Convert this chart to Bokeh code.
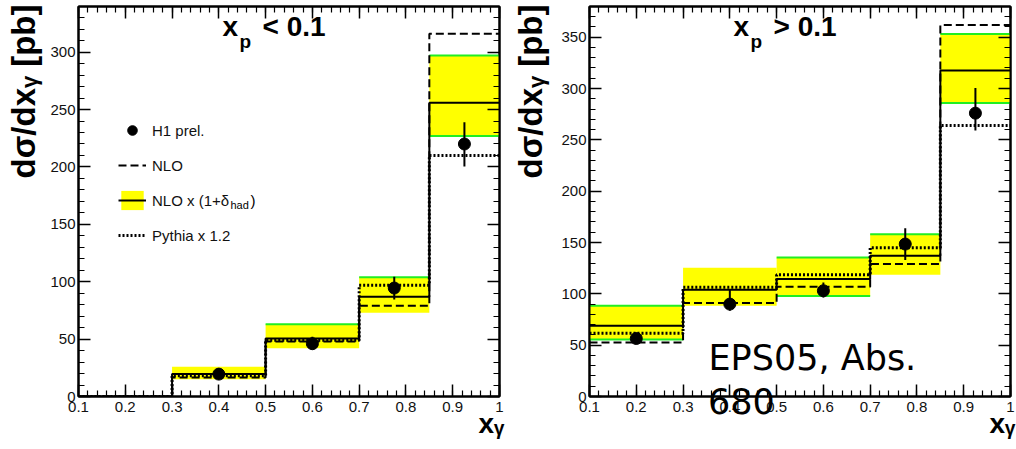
import numpy as np
from bokeh.plotting import figure
from bokeh.layouts import row
from bokeh.models import Label, Legend, LegendItem, LinearAxis, FixedTicker, Div
from bokeh.embed import file_html
from bokeh.resources import INLINE

# ---------------- data ----------------
edges = [0.1, 0.3, 0.5, 0.7, 0.85, 1.0]
x_ticks = [0.1, 0.2, 0.3, 0.4, 0.5, 0.6, 0.7, 0.8, 0.9, 1.0]
x_tick_labels = ["0.1", "0.2", "0.3", "0.4", "0.5", "0.6", "0.7", "0.8", "0.9", "1"]

# left panel: x_p < 0.1
nlo_l = [0, 16.5, 48, 79, 316]
nlo_had_l = [0, 19.5, 50.5, 87, 256]
band_lo_l = [0, 15, 42, 73, 227]
band_hi_l = [0, 26, 63, 104, 297]
green_hi_l = [None, None, 63, 104, 297]
green_lo_l = [None, None, None, None, 227]
pythia_l = [0, 18, 49, 97, 210]
h1_x_l = [0.4, 0.6, 0.775, 0.925]
h1_y_l = [19.5, 46, 94.5, 220]
h1_hi_l = [23.8, 52, 104.4, 239]
h1_lo_l = [15, 41, 84.5, 200.5]
y_ticks_l = [0, 50, 100, 150, 200, 250, 300]

# right panel: x_p > 0.1
nlo_r = [52.5, 91, 107, 129, 362]
nlo_had_r = [69, 104, 114.5, 137, 317.5]
band_lo_r = [55, 88.5, 98, 118.5, 286]
band_hi_r = [88.5, 125.5, 135.5, 158, 353]
green_hi_r = [88.5, None, 135.5, 158, 353]
green_lo_r = [55.5, None, 98, None, 286]
pythia_r = [61.5, 106.5, 118.5, 145, 264]
h1_x_r = [0.2, 0.4, 0.6, 0.775, 0.925]
h1_y_r = [56.5, 90, 103, 148.5, 276]
h1_hi_r = [60, 104, 111, 164, 300.5]
h1_lo_r = [53, 83.5, 96.5, 133, 259]
y_ticks_r = [0, 50, 100, 150, 200, 250, 300, 350]

YELLOW = "#ffff00"
GREEN = "#22ee22"
TICKFONT = "Liberation Sans"
NBSP = "\u00a0"
Y_TITLE = NBSP * 24 + "dσ/dxᵧ [pb]"
X_TITLE = NBSP * 52 + "xᵧ"


def style_axis(ax, ticker, labels=True, overrides=None):
    ax.ticker = ticker
    ax.axis_line_color = "black"
    ax.axis_line_width = 2
    ax.major_tick_in = 12
    ax.major_tick_out = 0
    ax.minor_tick_in = 6
    ax.minor_tick_out = 0
    ax.major_tick_line_color = "black"
    ax.major_tick_line_width = 1.5
    ax.minor_tick_line_color = "black"
    ax.minor_tick_line_width = 1.2
    if labels:
        ax.major_label_text_font = TICKFONT
        ax.major_label_text_font_size = "15px"
        ax.major_label_text_color = "#111111"
        if overrides:
            ax.major_label_overrides = overrides
    else:
        ax.major_label_text_color = None
        ax.major_label_text_font_size = "1px"
        ax.major_label_standoff = 0


def lbl(p, x, baseline, text, size, font="Liberation Sans", bold=True,
        align="left"):
    # position given by the text baseline (screen px above the frame bottom)
    p.add_layout(Label(x=x, y=baseline + 0.35 * size, x_units="screen",
                       y_units="screen", text=text,
                       text_font=font, text_font_size=f"{size}px",
                       text_font_style="bold" if bold else "normal",
                       text_align=align, text_baseline="middle",
                       text_color="black"))


def panel(width, y_max, mb_left, mb_right, nlo, nlo_had, blo, bhi, ghi, glo,
          pythia, hx, hy, hhi, hlo, y_ticks, title_sym, ylab_standoff):
    p = figure(width=width, height=449, x_range=(0.1, 1.0), y_range=(0, y_max),
               output_backend="svg", toolbar_location=None,
               min_border_left=mb_left, min_border_right=mb_right,
               min_border_top=6, min_border_bottom=53)
    p.xgrid.visible = False
    p.ygrid.visible = False
    p.outline_line_color = "black"
    p.outline_line_width = 2
    p.background_fill_color = "white"
    p.border_fill_color = "white"

    x_minor = list(np.round(np.arange(0.1, 1.0001, 0.02), 3))
    y_minor = list(range(0, int(y_max) + 1, 10))
    xt = FixedTicker(ticks=x_ticks, minor_ticks=x_minor)
    yt = FixedTicker(ticks=y_ticks, minor_ticks=y_minor)
    overrides = {t: s for t, s in zip(x_ticks, x_tick_labels)}

    xa = p.xaxis[0]
    style_axis(xa, xt, True, overrides)
    xa.major_label_standoff = 5
    xa.axis_label = X_TITLE
    xa.axis_label_text_font = "Liberation Sans"
    xa.axis_label_text_font_style = "bold"
    xa.axis_label_text_font_size = "28px"
    xa.axis_label_text_color = "black"
    xa.axis_label_standoff = -7

    ya = p.yaxis[0]
    style_axis(ya, yt, True)
    ya.major_label_standoff = 3
    ya.axis_label = Y_TITLE
    ya.axis_label_text_font = "Liberation Sans"
    ya.axis_label_text_font_style = "bold"
    ya.axis_label_text_font_size = "33px"
    ya.axis_label_text_color = "black"
    ya.axis_label_standoff = ylab_standoff

    top_ax = LinearAxis()
    style_axis(top_ax, FixedTicker(ticks=x_ticks, minor_ticks=x_minor), False)
    p.add_layout(top_ax, "above")
    right_ax = LinearAxis()
    style_axis(right_ax, FixedTicker(ticks=y_ticks, minor_ticks=y_minor), False)
    p.add_layout(right_ax, "right")

    # band
    band = p.quad(left=edges[:-1], right=edges[1:], bottom=blo, top=bhi,
                  fill_color=YELLOW, line_color=None)
    # green edges
    gx0, gx1, gy = [], [], []
    for i in range(len(ghi)):
        for v in (ghi[i], glo[i]):
            if v is not None:
                gx0.append(edges[i]); gx1.append(edges[i + 1]); gy.append(v)
    p.segment(x0=gx0, x1=gx1, y0=gy, y1=gy, line_color=GREEN, line_width=2)

    xs = edges
    r_nlo = p.step(xs, list(nlo) + [nlo[-1]], mode="after", line_color="black",
                   line_width=2, line_dash="8 4")
    r_had = p.step(xs, list(nlo_had) + [nlo_had[-1]], mode="after",
                   line_color="black", line_width=2)
    r_py = p.step(xs, list(pythia) + [pythia[-1]], mode="after",
                  line_color="black", line_width=3, line_dash="2 2")

    p.segment(x0=hx, x1=hx, y0=hlo, y1=hhi, line_color="black", line_width=2)
    r_h1 = p.scatter(hx, hy, marker="circle", size=12, fill_color="black",
                     line_color="black")

    # panel title  x_p < 0.1
    lbl(p, 144, 360, "x", 28)
    lbl(p, 161, 348, "p", 19)
    lbl(p, 184, 360, title_sym + " 0.1", 28)
    return p, (r_h1, r_nlo, band, r_had, r_py)


p1, (r_h1, r_nlo, band, r_had, r_py) = panel(
    508, 339.8, 78, 9, nlo_l, nlo_had_l, band_lo_l, band_hi_l, green_hi_l,
    green_lo_l, pythia_l, h1_x_l, h1_y_l, h1_hi_l, h1_lo_l, y_ticks_l, "<", 5)

legend = Legend(items=[
    LegendItem(label="H1 prel.", renderers=[r_h1]),
    LegendItem(label="NLO", renderers=[r_nlo]),
    LegendItem(label="NLO x (1+δ", renderers=[band, r_had]),
    LegendItem(label="Pythia x 1.2", renderers=[r_py]),
], location=(40, 149), glyph_width=28, glyph_height=24, label_height=24,
    label_standoff=6, spacing=11, padding=0, margin=0,
    border_line_alpha=0, background_fill_alpha=0,
    label_text_font=TICKFONT, label_text_font_size="15px",
    label_text_color="#111111")
p1.add_layout(legend)
lbl(p1, 152, 188, "had", 11, bold=False)
lbl(p1, 172, 191, ")", 15, bold=False)

p2, _ = panel(
    508, 379.9, 81, 6, nlo_r, nlo_had_r, band_lo_r, band_hi_r, green_hi_r,
    green_lo_r, pythia_r, h1_x_r, h1_y_r, h1_hi_r, h1_lo_r, y_ticks_r, ">", 9)

lbl(p2, 119, 26, "EPS05, Abs.", 35, font="DejaVu Sans", bold=False)

note = Div(text="680", width=80, height=40,
           styles={"position": "absolute", "left": "708px", "top": "385px",
                   "font-family": "DejaVu Sans", "font-size": "35px",
                   "line-height": "35px", "color": "black", "margin": "0",
                   "padding": "0", "z-index": "10"})

layout = row(p1, p2, note)
open("out.html", "w").write(file_html(layout, INLINE))
